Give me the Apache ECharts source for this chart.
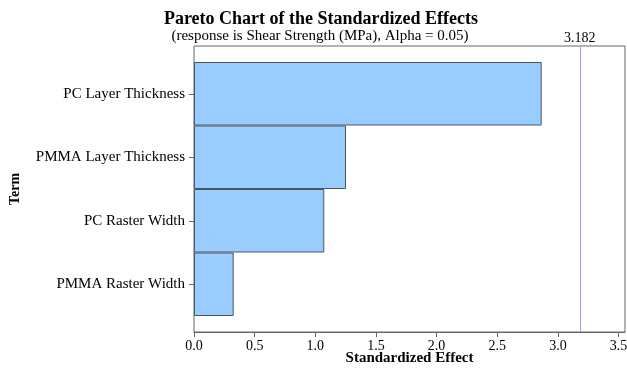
<!DOCTYPE html>
<html><head><meta charset="utf-8">
<script src="https://cdn.jsdelivr.net/npm/echarts@6/dist/echarts.min.js"></script>
<style>html,body{margin:0;padding:0;background:#fff}#c{width:627px;height:369px}</style>
</head><body><div id="c"></div>
<script>
const terms = ['PC Layer Thickness', 'PMMA Layer Thickness', 'PC Raster Width', 'PMMA Raster Width'];
const effects = [2.866, 1.253, 1.074, 0.327];
const critical = 3.182;
const xTicks = { min: 0, max: 3.553, interval: 0.5 };

const F = '"Liberation Serif","Times New Roman",serif';
const chart = echarts.init(document.getElementById('c'), null, { renderer: 'canvas' });
chart.setOption({
  animation: false,
  backgroundColor: '#fff',
  title: [
    { text: 'Pareto Chart of the Standardized Effects', left: 316, top: 5, textAlign: 'center',
      textStyle: { fontFamily: F, fontSize: 18, fontWeight: 'bold', color: '#000' } },
    { text: '(response is Shear Strength (MPa), Alpha = 0.05)', left: 315, top: 24, textAlign: 'center',
      textStyle: { fontFamily: F, fontSize: 15, fontWeight: 'normal', color: '#000' } }
  ],
  grid: [
    { left: 194, right: 2, top: 46, bottom: 37, outerBoundsMode: 'none', containLabel: false, show: true, borderColor: '#666', borderWidth: 1, backgroundColor: 'transparent' },
    { left: 194, right: 2, top: 62, bottom: 53, outerBoundsMode: 'none', containLabel: false }
  ],
  xAxis: [
    { type: 'value', gridIndex: 0, min: xTicks.min, max: xTicks.max, interval: xTicks.interval,
      name: 'Standardized Effect', nameLocation: 'middle', nameGap: 19, nameMoveOverlap: false,
      nameTextStyle: { fontFamily: F, fontSize: 15, fontWeight: 'bold', color: '#000' },
      axisLine: { show: true, lineStyle: { color: '#666' } },
      axisTick: { show: true, length: 5, lineStyle: { color: '#666' } },
      axisLabel: { fontFamily: F, fontSize: 14, color: '#000', margin: 7, showMaxLabel: false, formatter: v => v.toFixed(1) },
      splitLine: { show: false } },
    { type: 'value', gridIndex: 1, min: xTicks.min, max: xTicks.max, show: false, splitLine: { show: false } }
  ],
  yAxis: [
    { type: 'value', gridIndex: 0, min: 0, max: 1, name: 'Term', nameLocation: 'middle', nameGap: 172, nameRotate: 90,
      nameTextStyle: { fontFamily: F, fontSize: 14, fontWeight: 'bold', color: '#000' },
      axisLine: { show: false }, axisTick: { show: false }, axisLabel: { show: false }, splitLine: { show: false } },
    { type: 'category', gridIndex: 1, data: terms, inverse: true,
      axisLine: { show: false },
      axisTick: { show: true, alignWithLabel: true, length: 5, lineStyle: { color: '#666' } },
      axisLabel: { fontFamily: F, fontSize: 15, color: '#000', margin: 9 } }
  ],
  series: [
    { type: 'bar', xAxisIndex: 1, yAxisIndex: 1, data: effects, barCategoryGap: 0, barWidth: '100%',
      itemStyle: { color: '#99CCFF', borderColor: '#4a5560', borderWidth: 1 } },
    { type: 'line', xAxisIndex: 0, yAxisIndex: 0, data: [], symbol: 'none',
      markLine: { silent: true, symbol: 'none', animation: false,
        lineStyle: { color: '#9a9aff', width: 1, type: 'solid', opacity: 1 },
        label: { show: true, position: 'end', formatter: String(critical), fontFamily: F, fontSize: 14, color: '#000', distance: 1 },
        data: [{ xAxis: critical }] } }
  ]
});
</script></body></html>
